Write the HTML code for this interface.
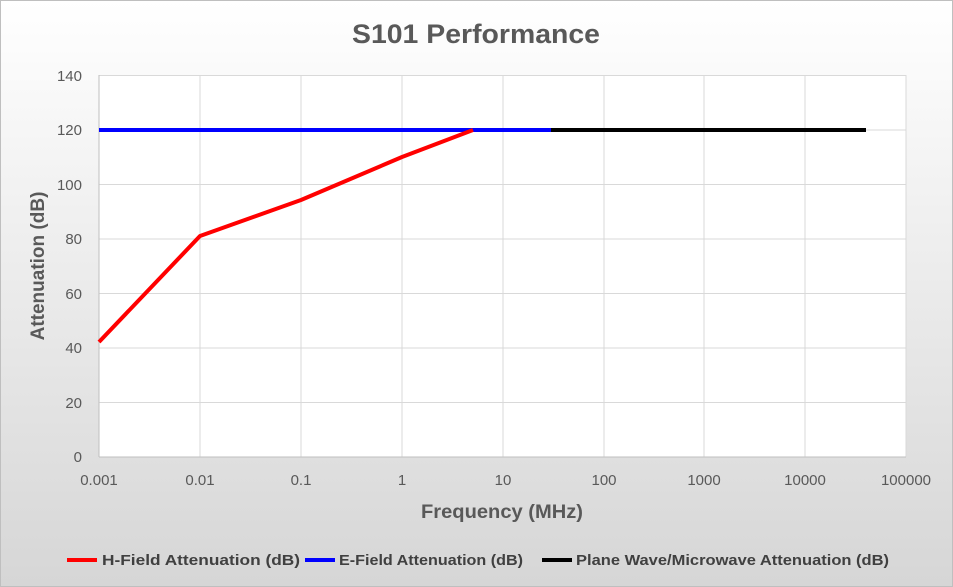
<!DOCTYPE html>
<html><head><meta charset="utf-8"><style>
body{margin:0;width:953px;height:587px;overflow:hidden}
svg{display:block;font-family:"Liberation Sans",sans-serif}
</style></head><body>
<svg width="953" height="587" viewBox="0 0 953 587">
<defs><linearGradient id="bg" x1="0" y1="0" x2="0" y2="1">
<stop offset="0" stop-color="#ffffff"/><stop offset="1" stop-color="#d6d6d6"/></linearGradient></defs>
<rect x="0.5" y="0.5" width="952" height="586" fill="url(#bg)" stroke="#bfbfbf"/>
<text x="352" y="43" textLength="248" lengthAdjust="spacingAndGlyphs" font-size="27" font-weight="bold" fill="#595959">S101 Performance</text>
<rect x="99" y="75" width="807" height="382" fill="#fff"/>
<g stroke="#d9d9d9" stroke-width="1">
<line x1="99" x2="906" y1="75.5" y2="75.5"/><line x1="99" x2="906" y1="130" y2="130"/><line x1="99" x2="906" y1="184.5" y2="184.5"/><line x1="99" x2="906" y1="239" y2="239"/><line x1="99" x2="906" y1="293.5" y2="293.5"/><line x1="99" x2="906" y1="348" y2="348"/><line x1="99" x2="906" y1="402.5" y2="402.5"/>
<line x1="200" x2="200" y1="75" y2="457"/><line x1="301" x2="301" y1="75" y2="457"/><line x1="402" x2="402" y1="75" y2="457"/><line x1="503" x2="503" y1="75" y2="457"/><line x1="604" x2="604" y1="75" y2="457"/><line x1="704" x2="704" y1="75" y2="457"/><line x1="805" x2="805" y1="75" y2="457"/><line x1="906" x2="906" y1="75" y2="457"/>
</g>
<line x1="99" x2="99" y1="75" y2="457" stroke="#bfbfbf"/>
<line x1="99" x2="906" y1="457" y2="457" stroke="#bfbfbf"/>
<g font-size="15" fill="#595959" text-anchor="end">
<text x="82" y="462">0</text><text x="82" y="408">20</text><text x="82" y="353">40</text><text x="82" y="299">60</text><text x="82" y="244">80</text><text x="82" y="190">100</text><text x="82" y="135">120</text><text x="82" y="81">140</text>
</g>
<g font-size="15" fill="#595959" text-anchor="middle">
<text x="99" y="485">0.001</text><text x="200" y="485">0.01</text><text x="301" y="485">0.1</text><text x="402" y="485">1</text><text x="503" y="485">10</text><text x="604" y="485">100</text><text x="704" y="485">1000</text><text x="805" y="485">10000</text><text x="906" y="485">100000</text>
</g>
<text x="421" y="518" textLength="162" lengthAdjust="spacingAndGlyphs" font-size="19" font-weight="bold" fill="#595959">Frequency (MHz)</text>
<text transform="translate(44,266) rotate(-90)" text-anchor="middle" font-size="19" font-weight="bold" fill="#595959">Attenuation (dB)</text>
<polyline points="99,130 551,130" stroke="#0000ff" stroke-width="4" fill="none"/>
<polyline points="551,130 866,130" stroke="#000" stroke-width="4" fill="none"/>
<polyline points="99,342 200,236 301,200 402,157 473,130" stroke="#ff0000" stroke-width="4" fill="none" stroke-linejoin="round"/>
<g font-size="15" font-weight="bold" fill="#404040">
<line x1="67" x2="97" y1="560" y2="560" stroke="#ff0000" stroke-width="4"/><text x="102" y="565" textLength="198" lengthAdjust="spacingAndGlyphs">H-Field Attenuation (dB)</text>
<line x1="305" x2="335" y1="560" y2="560" stroke="#0000ff" stroke-width="4"/><text x="339" y="565" textLength="184" lengthAdjust="spacingAndGlyphs">E-Field Attenuation (dB)</text>
<line x1="542" x2="572" y1="560" y2="560" stroke="#000" stroke-width="4"/><text x="576" y="565" textLength="313" lengthAdjust="spacingAndGlyphs">Plane Wave/Microwave Attenuation (dB)</text>
</g>
</svg>
</body></html>
